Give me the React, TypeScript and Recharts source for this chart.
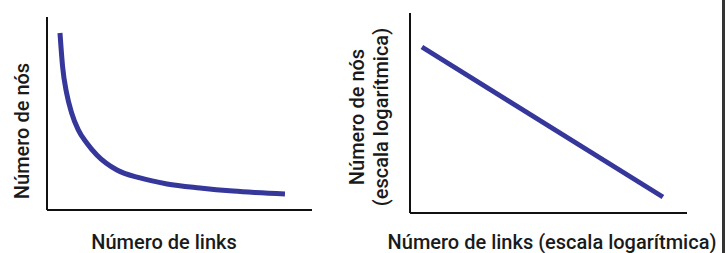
import React from 'react';
import { LineChart, Line, XAxis, YAxis } from 'recharts';

// curva da esquerda (escala linear)
const linksLinear = [4.9, 5.9, 7.4, 9.3, 11.8, 15.0, 18.8, 26.4, 35.1, 45.3, 57.7, 70.2, 89.8];
const nodesLinear = [91.7, 74.1, 60.6, 50.3, 41.5, 34.7, 28.5, 20.7, 16.6, 13.5, 11.4, 9.8, 8.3];

// reta da direita (escala log-log)
const linksLog = [4.3, 91.3];
const nodesLog = [83, 8];

const xLabelLeft = 'Número de links';
const yLabelLeft = 'Número de nós';
const xLabelRight = 'Número de links (escala logarítmica)';
const yLabelRight = ['Número de nós', '(escala logarítmica)'];

const LINE_COLOR = '#35379a';
const AXIS_COLOR = '#111111';
const FONT = 'Roboto, "Noto Sans", sans-serif';

const leftData = linksLinear.map((x, i) => ({ x, y: nodesLinear[i] }));
const rightData = linksLog.map((x, i) => ({ x, y: nodesLog[i] }));

const textStyle: React.CSSProperties = {
  position: 'absolute',
  fontFamily: FONT,
  fontSize: 20,
  fontWeight: 500,
  color: '#1a1a1a',
  whiteSpace: 'nowrap',
  lineHeight: 1,
};

const vLabel = (text: string, cx: number, cy: number) => (
  <div
    key={text}
    style={{
      ...textStyle,
      left: cx,
      top: cy,
      transform: 'translate(-50%, -50%) rotate(-90deg)',
    }}
  >
    {text}
  </div>
);

const hLabel = (text: string, cx: number, top: number) => (
  <div style={{ ...textStyle, left: cx, top, transform: 'translateX(-50%)' }}>{text}</div>
);

const axisLine = { stroke: AXIS_COLOR, strokeWidth: 2 };

export default function App() {
  return (
    <div
      style={{
        position: 'absolute',
        left: 0,
        top: 0,
        width: 726,
        height: 253,
        background: '#fff',
        overflow: 'hidden',
      }}
    >
      <div style={{ position: 'absolute', left: 0, top: 0 }}>
        <LineChart
          width={320}
          height={253}
          data={leftData}
          margin={{ top: 17, right: 8, bottom: 42, left: 46 }}
        >
          <XAxis
            type="number"
            dataKey="x"
            domain={[0, 100]}
            height={1}
            tick={false}
            tickLine={false}
            axisLine={axisLine}
          />
          <YAxis
            type="number"
            domain={[0, 100]}
            width={1}
            tick={false}
            tickLine={false}
            axisLine={axisLine}
          />
          <Line
            type="monotone"
            dataKey="y"
            stroke={LINE_COLOR}
            strokeWidth={5}
            dot={false}
            isAnimationActive={false}
          />
        </LineChart>
      </div>

      <div style={{ position: 'absolute', left: 340, top: 0 }}>
        <LineChart
          width={386}
          height={253}
          data={rightData}
          margin={{ top: 13, right: 39, bottom: 39, left: 69 }}
        >
          <XAxis
            type="number"
            dataKey="x"
            domain={[0, 100]}
            height={1}
            tick={false}
            tickLine={false}
            axisLine={axisLine}
          />
          <YAxis
            type="number"
            domain={[0, 100]}
            width={1}
            tick={false}
            tickLine={false}
            axisLine={axisLine}
          />
          <Line
            type="linear"
            dataKey="y"
            stroke={LINE_COLOR}
            strokeWidth={5}
            dot={false}
            isAnimationActive={false}
          />
        </LineChart>
      </div>

      {hLabel(xLabelLeft, 164, 232)}
      {vLabel(yLabelLeft, 22, 131)}
      {hLabel(xLabelRight, 552, 232)}
      {vLabel(yLabelRight[0], 357, 117)}
      {vLabel(yLabelRight[1], 381, 117)}

      <div
        style={{
          position: 'absolute',
          left: 722,
          top: 0,
          width: 3,
          height: 253,
          background: '#333',
        }}
      />
    </div>
  );
}
